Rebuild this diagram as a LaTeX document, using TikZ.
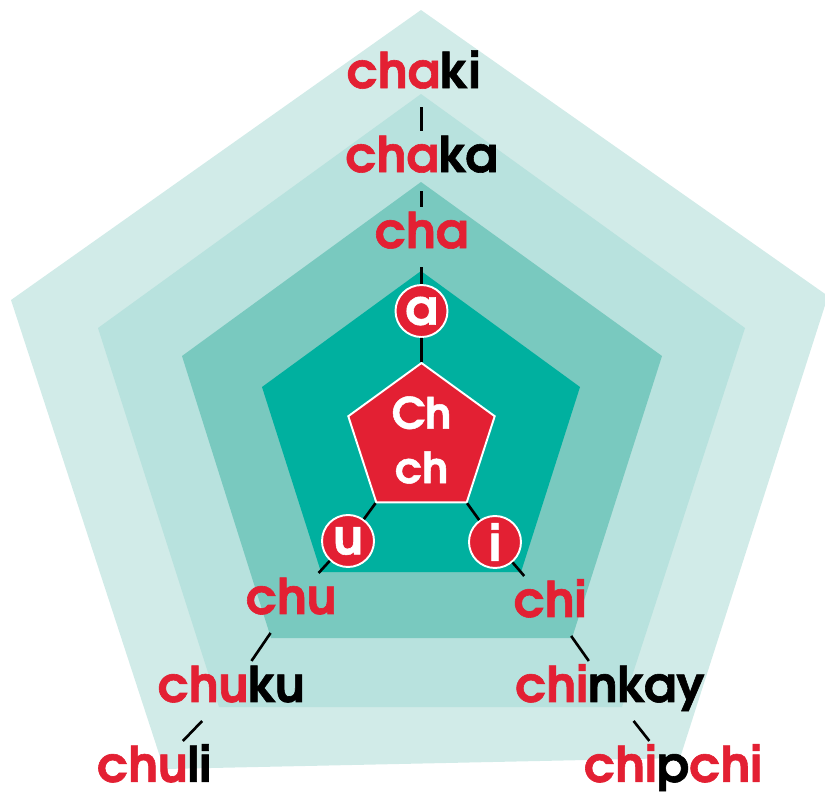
\documentclass[tikz,border=0pt]{standalone}
\usepackage{fontspec}
\setmainfont{TeX Gyre Adventor}[BoldFeatures={FakeBold=1.2}]
\usepackage{xcolor}
\usepackage{tikz}
\usetikzlibrary{positioning,shapes.geometric}

\definecolor{chred}{HTML}{E32033}
\definecolor{ringA}{HTML}{D1EBE8}
\definecolor{ringB}{HTML}{B8E2DE}
\definecolor{ringC}{HTML}{79C9BF}
\definecolor{ringD}{HTML}{00B09F}

\newcommand{\rd}[1]{\textcolor{chred}{#1}}

\begin{document}
\begin{tikzpicture}[x=0.02cm,y=-0.02cm,on grid,
    word/.style={font=\fontsize{28}{30}\selectfont\bfseries,inner sep=0pt,outer sep=0.1cm,
      text height=0.72cm,text depth=0.28cm},
    vowel/.style={circle,fill=chred,draw=white,line width=1.1pt,minimum size=1.04cm,
      inner sep=0pt,text=white,font=\fontsize{28}{30}\selectfont\bfseries},
    hub/.style={regular polygon,regular polygon sides=5,minimum size=3.08cm,inner sep=0pt,
      fill=chred,draw=white,line width=1.1pt,text=white,align=center,
      font=\fontsize{24.5}{31}\selectfont\bfseries},
    link/.style={line width=1.5pt}]
  \useasboundingbox (0,0) rectangle (825,795);
  % rings
  \fill[ringA] (421,10) -- (828,296) -- (680,758) -- (164,769) -- (11,300) -- cycle;
  \fill[ringB] (421,94) -- (745,328) -- (622,707) -- (219,707) -- (98,328) -- cycle;
  \fill[ringC] (421,182) -- (662,356) -- (572,638) -- (271,638) -- (182,356) -- cycle;
  \fill[ringD] (421,271) -- (580,387) -- (521,572) -- (321,572) -- (262,387) -- cycle;

  \node[hub] (Ch) at (421.5,440) {Ch\\ch};
  \node[vowel] (a) [above=2.58cm of Ch] {a};
  \node[vowel] (u) [below left=2.02cm and 1.47cm of Ch] {u};
  \node[vowel] (i) [below right=2.04cm and 1.47cm of Ch] {i};

  % a branch
  \node[word] (cha) [above=1.48cm of a] {\rd{cha}};
  \node[word] (chaka) [above=1.52cm of cha] {\rd{cha}ka};
  \node[word] (chaki) [above left=1.68cm and 0.16cm of chaka] {\rd{cha}ki};
  % u branch
  \node[word] (chu) [below left=1.24cm and 1.14cm of u] {\rd{chu}};
  \node[word] (chuku) [below left=1.76cm and 1.2cm of chu] {\rd{chu}ku};
  \node[word] (chuli) [below left=1.6cm and 1.54cm of chuku] {\rd{chu}li};
  % i branch
  \node[word] (chi) [below right=1.28cm and 1.1cm of i] {\rd{chi}};
  \node[word] (chinkay) [below right=1.7cm and 1.2cm of chi] {\rd{chi}nkay};
  \node[word] (chipchi) [below right=1.6cm and 1.26cm of chinkay] {\rd{chi}p\rd{chi}};

  \path[link]
    (chaka.north |- chaki.south) edge (chaka)
    (chaka) edge (cha)
    (cha) edge (a)
    (a) edge (Ch)
    (Ch) edge (u)
         edge (i)
    (u) edge (chu)
    (chu) edge (chuku)
    (chuku) edge (chuli)
    (i) edge (chi)
    (chi) edge (chinkay)
    (chinkay) edge (chipchi);
\end{tikzpicture}
\end{document}
